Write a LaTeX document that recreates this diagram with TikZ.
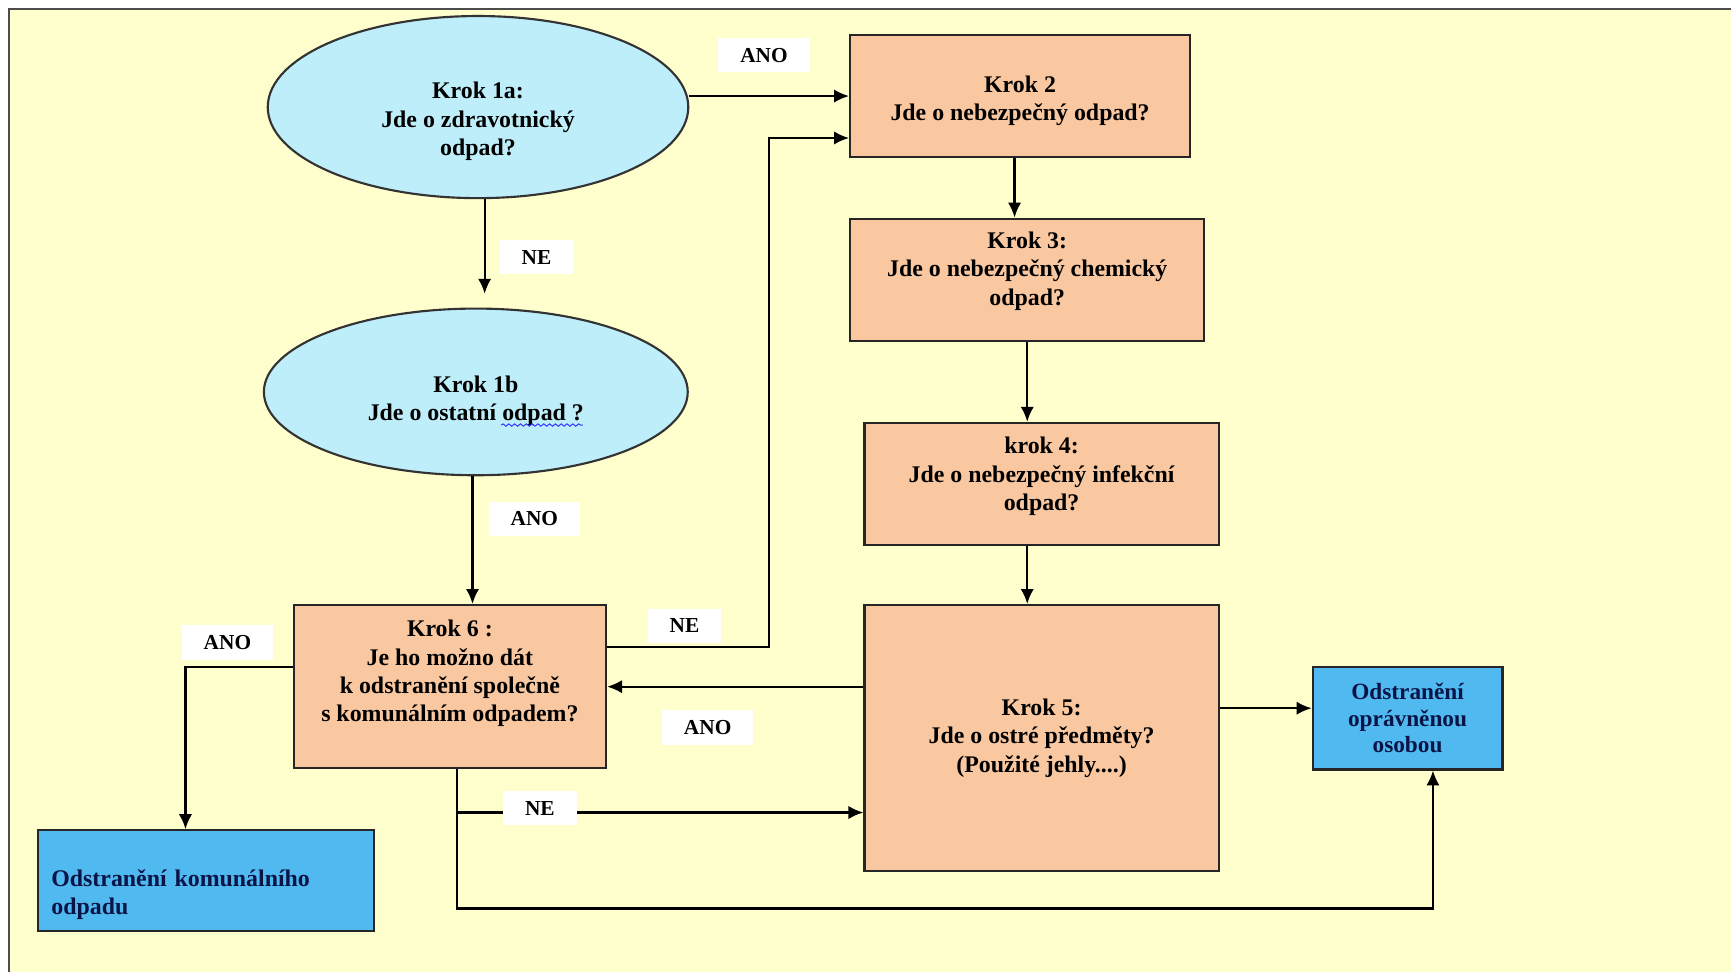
\documentclass[tikz,border=0pt]{standalone}
\usepackage{fontspec}
\setmainfont{Liberation Serif}
\usetikzlibrary{shapes.geometric,arrows.meta,decorations.pathmorphing}
\definecolor{bgyellow}{RGB}{255,255,206}
\definecolor{ovalblue}{RGB}{190,238,250}
\definecolor{peach}{RGB}{250,200,160}
\definecolor{skyblue}{RGB}{80,185,240}
\definecolor{navy}{RGB}{10,20,70}

\begin{document}
\begin{tikzpicture}[x=0.02cm,y=-0.02cm]
\tikzstyle{oval}=[ellipse, draw=black!80, line width=1.1pt, fill=ovalblue, inner sep=0pt]
\tikzstyle{krok}=[rectangle, draw=black!85, line width=1.1pt, fill=peach, inner sep=0pt]
\tikzstyle{cil}=[rectangle, draw=black!85, line width=1.1pt, fill=skyblue, inner sep=0pt]
\tikzstyle{said}=[inner sep=0pt, align=center, font=\bfseries\fontsize{12.3}{14.6}\selectfont]
\tikzstyle{connect}=[-{Latex[length=0.27cm,width=0.24cm]}, line width=1.1pt]
\tikzstyle{tag}=[rectangle, fill=white, inner xsep=0.4cm, inner ysep=0.18cm, font=\bfseries\fontsize{11}{13}\selectfont]
  % background and frame
  \fill[white] (0,0) rectangle (1568,885);
  \fill[bgyellow] (8,8) rectangle (1568,880);
  \draw[black!70, line width=1pt] (8,880) -- (8,8) -- (1568,8);
\node[oval, minimum width=7.62cm, minimum height=3.3cm, label={[said, yshift=-0.26cm]center:{Krok 1a:\\Jde o zdravotnický\\odpad?}}] (k1a) at (433,97) {};
\node[oval, minimum width=7.68cm, minimum height=3.02cm, label={[said, yshift=-0.16cm]center:{Krok 1b\\Jde o ostatní odpad ?}}] (k1b) at (431,355) {};
  % spell check wave
  \draw[blue!80, line width=0.5pt, decorate, decoration={snake, amplitude=0.6pt, segment length=3pt}] (454,385) -- (528,385);
  \node[krok, minimum width=6.16cm, minimum height=2.2cm, label={[said, yshift=-0.09cm]center:{Krok 2\\Jde o nebezpečný odpad?}}] (k2) at (924,87) {};
  \node[krok, minimum width=6.42cm, minimum height=2.22cm, label={[said, yshift=0.16cm]center:{Krok 3:\\Jde o nebezpečný chemický\\odpad?}}] (k3) at (930.5,253.5) {};
  \node[krok, minimum width=6.42cm, minimum height=2.22cm, label={[said, yshift=0.14cm]center:{krok 4:\\Jde o nebezpečný infekční\\odpad?}}] (k4) at (943.5,438.5) {};
  \node[krok, minimum width=6.42cm, minimum height=4.82cm, label={[said]center:{Krok 5:\\Jde o ostré předměty?\\(Použité jehly....)}}] (k5) at (943.5,668.5) {};
  \node[krok, minimum width=5.66cm, minimum height=2.96cm, label={[said, yshift=0.24cm]center:{Krok 6 :\\Je ho možno dát\\k odstranění společně\\s komunálním odpadem?}}] (k6) at (407.5,622) {};
  \node[cil, minimum width=6.1cm, minimum height=1.82cm, label={[said, text=navy, align=left, text width=5.6cm, yshift=-0.26cm]center:{Odstranění komunálního\\odpadu}}] (komunal) at (186.5,797.5) {};
  \node[cil, minimum width=3.44cm, minimum height=1.86cm, label={[said, text=navy, font=\bfseries\fontsize{12}{13.6}\selectfont]center:{Odstranění\\oprávněnou\\osobou}}] (opravn) at (1275,650.5) {};
  % connectors
  \draw[connect] (k1a.east |- k2.west) -- (k2.west);
  \draw[connect, shorten >=0.25cm] ([xshift=0.12cm]k1a.south) -- ([xshift=0.12cm]k1a.south |- k1b.north);
  \draw[connect] ([xshift=-0.1cm]k2.south) -- ([xshift=-0.1cm]k2.south |- k3.north);
  \draw[connect] (k3.south) -- (k3.south |- k4.north);
  \draw[connect] (k3.south |- k4.south) -- (k3.south |- k5.north);
  \draw[connect] ([xshift=-0.06cm]k1b.south) -- ([xshift=-0.06cm]k1b.south |- k6.north);
  \draw[connect] ([yshift=0.72cm]k6.east) -- ++(147,0) |- ([yshift=-0.76cm]k2.west);
  \draw[connect] (k5.west |- k6.east) -- (k6.east);
  \draw[connect] ([yshift=0.36cm]k6.west) -| ([xshift=-0.37cm]komunal.north);
  \draw[connect] ([xshift=0.13cm]k6.south) |- ([yshift=-1.35cm]k5.west);
  \draw[connect] ([xshift=0.13cm]k6.south) -- ++(0,126) -| ([xshift=0.46cm]opravn.south);
  \draw[connect] ([yshift=0.18cm]k5.east |- opravn.west) -- ([yshift=0.18cm]opravn.west);
  % answers
  \node[tag] (ano1) at (692,50) {ANO};
  \node[tag] (ne1) at (486,233) {NE};
  \node[tag] (ano2) at (484,470) {ANO};
  \node[tag] (ne2) at (620,567) {NE};
  \node[tag] (ano3) at (641,659) {ANO};
  \node[tag] (ne3) at (489,732) {NE};
  \node[tag] (ano4) at (206,582) {ANO};
\end{tikzpicture}
\end{document}
